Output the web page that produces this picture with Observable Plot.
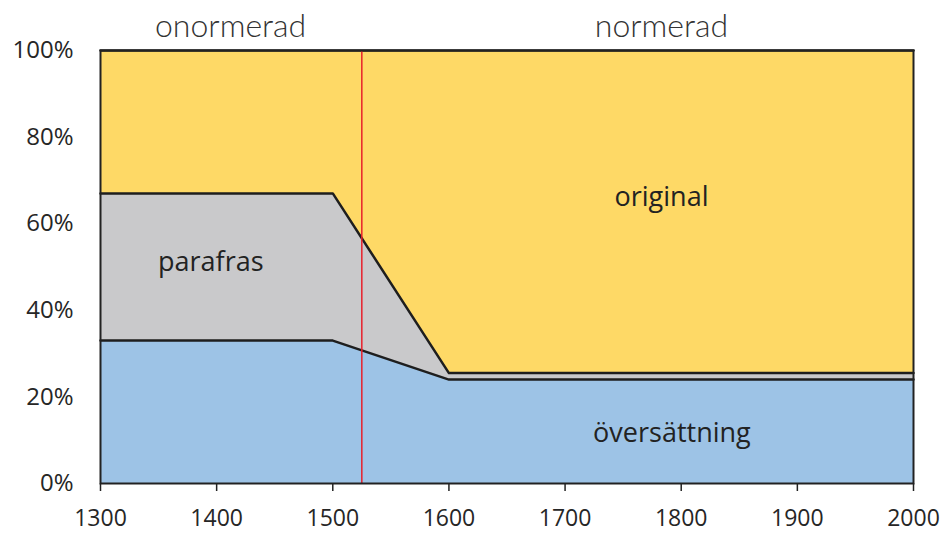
<!DOCTYPE html>
<html><head><meta charset="utf-8">
<script src="https://cdn.jsdelivr.net/npm/d3@7"></script>
<script src="https://cdn.jsdelivr.net/npm/@observablehq/plot@0.6"></script>
<style>body{margin:0;background:#fff}</style>
</head><body><div id="chart"></div>
<script>
const years = [1300, 1500, 1600, 2000];
const oversattning = [33, 33, 24, 24];
const parafras = [34, 34, 1.5, 1.5];
const original = [33, 33, 74.5, 74.5];
const seriesNames = ["översättning", "parafras", "original"];
const seriesColors = ["#9DC3E6", "#C9C9CB", "#FED966"];
const periods = [
  {label: "onormerad", labelX: 1412},
  {label: "normerad", labelX: 1783}
];
const boundaryYear = 1525;
const xTicks = [1300, 1400, 1500, 1600, 1700, 1800, 1900, 2000];
const yTicks = [0, 20, 40, 60, 80, 100];
const areaLabels = [
  {text: "parafras", x: 1395, y: 51},
  {text: "original", x: 1783, y: 66},
  {text: "översättning", x: 1792, y: 11.5}
];

const seriesValues = [oversattning, parafras, original];
const data = [];
seriesNames.forEach((s, i) => years.forEach((yr, j) => data.push({series: s, year: yr, value: seriesValues[i][j]})));

const chart = Plot.plot({
  width: 945,
  height: 533,
  marginLeft: 100,
  marginRight: 32,
  marginTop: 50,
  marginBottom: 50,
  style: {fontFamily: "'Open Sans', sans-serif", fontSize: "24px", color: "#262626", background: "#fff"},
  x: {domain: [1300, 2000], label: null},
  y: {domain: [0, 100], label: null},
  color: {domain: seriesNames, range: seriesColors},
  marks: [
    Plot.areaY(data, {x: "year", y: "value", z: "series", fill: "series", order: seriesNames}),
    Plot.lineY(data, Plot.stackY2({x: "year", y: "value", z: "series", order: seriesNames, stroke: "#1e1e1e", strokeWidth: 2.5})),
    Plot.ruleX([boundaryYear], {stroke: "#E8202A", strokeWidth: 1.5}),
    Plot.text(areaLabels, {x: "x", y: "y", text: "text", fontSize: 27, fill: "#222"}),
    Plot.text(periods, {x: "labelX", text: "label", frameAnchor: "top", lineAnchor: "bottom", dy: -14, fontSize: 32, fontWeight: 300, fontFamily: "Lato, sans-serif", fill: "#333", style: "letter-spacing:1.6px"}),
    Plot.frame({stroke: "#222", strokeWidth: 2}),
    Plot.axisX({ticks: xTicks, tickFormat: d => String(d), tickSize: 8, tickPadding: 18, fontSize: 23, stroke: "#222", strokeWidth: 1.5, label: null}),
    Plot.axisY({ticks: yTicks, tickFormat: d => d + "%", tickSize: 0, tickPadding: 27, fontSize: 24, label: null})
  ]
});
document.getElementById("chart").appendChild(chart);
</script>
</body></html>
